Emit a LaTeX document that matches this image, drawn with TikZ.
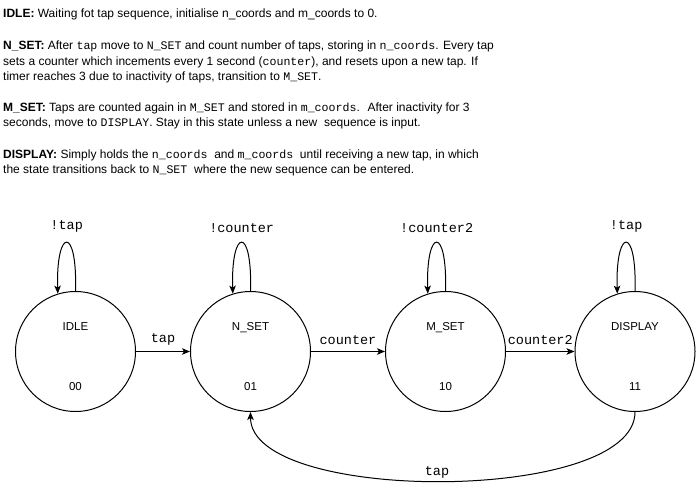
\documentclass[tikz,border=0pt]{standalone}
\usepackage{fontspec}
\setmainfont{Liberation Sans}
\setmonofont{Liberation Mono}
\usetikzlibrary{arrows.meta}
\newcommand{\mcode}[1]{{\fontsize{11.6}{13}\selectfont\ttfamily #1}}
\begin{document}
\begin{tikzpicture}[x=1pt,y=-1pt,
  para/.style={anchor=base west, inner sep=0pt, font=\fontsize{12}{14}\selectfont},
  state/.style={circle, draw, line width=1pt, minimum size=120pt, inner sep=0pt},
  stxt/.style={anchor=base, inner sep=0pt, font=\fontsize{11.5}{13}\selectfont},
  elabel/.style={font=\fontsize{13.5}{15}\selectfont\ttfamily, inner sep=0pt},
  edge/.style={line width=1pt, -{Stealth[length=8pt,width=6.5pt,inset=2pt]}},
]
\useasboundingbox (0,0) rectangle (696,495);

% description text
\node[para] (p1) at (3,17.5) {\textbf{IDLE:} Waiting fot tap sequence, initialise n\_coords and m\_coords to 0.};
\node[para] (p2) at (3,50) {\textbf{N\_SET:} After \mcode{tap} move to \mcode{N\_SET} and count number of taps, storing in \mcode{n\_coords}. Every tap};
\node[para] (p3) at (3,66) {sets a counter which incements every 1 second (\mcode{counter}), and resets upon a new tap. If};
\node[para] (p4) at (3,81) {timer reaches 3 due to inactivity of taps, transition to \mcode{M\_SET}.};
\node[para] (p5) at (3,111) {\textbf{M\_SET:} Taps are counted again in \mcode{M\_SET} and stored in \mcode{m\_coords}.~ After inactivity for 3};
\node[para] (p6) at (3,126) {seconds, move to \mcode{DISPLAY}. Stay in this state unless a new~ sequence is input.};
\node[para] (p7) at (3,158) {\textbf{DISPLAY:} Simply holds the \mcode{n\_coords}~ and \mcode{m\_coords}~ until receiving a new tap, in which};
\node[para] (p8) at (3,173) {the state transitions back to \mcode{N\_SET}~ where the new sequence can be entered.};

% states
\node[state] (idle) at (75.5,351.5) {};
\node[state] (nset) at (250.5,351.5) {};
\node[state] (mset) at (445.5,351.5) {};
\node[state] (disp) at (635,351.5) {};

\node[stxt] (idlename) at (75.5,330) {IDLE};
\node[stxt] (idlecode) at (75.5,390) {00};
\node[stxt] (nsetname) at (250.5,330) {N\_SET};
\node[stxt] (nsetcode) at (250.5,390) {01};
\node[stxt] (msetname) at (445.5,330) {M\_SET};
\node[stxt] (msetcode) at (445.5,390) {10};
\node[stxt] (dispname) at (635,330) {DISPLAY};
\node[stxt] (dispcode) at (635,390) {11};

% transitions
\draw[edge] (idle.east) -- (nset.west) node[elabel, midway, above=6pt] {tap};
\draw[edge] (nset.east) -- (mset.west) node[elabel, midway, above=6pt] {counter};
\draw[edge] (mset.east) -- (disp.west) node[elabel, midway, above=6pt] {counter2};

% self loops
\draw[edge] (idle.north) .. controls +(2,-66) and +(-2,-66) .. (idle.107) node[elabel, pos=0.5, above=10pt] {!tap};
\draw[edge] (nset.north) .. controls +(2,-66) and +(-2,-66) .. (nset.107) node[elabel, pos=0.5, above=10pt] {!counter};
\draw[edge] (mset.north) .. controls +(2,-66) and +(-2,-66) .. (mset.107) node[elabel, pos=0.5, above=10pt] {!counter2};
\draw[edge] (disp.north) .. controls +(2,-66) and +(-2,-66) .. (disp.107) node[elabel, pos=0.5, above=10pt] {!tap};

% return
\draw[edge] (disp.south) .. controls +(0,92) and +(0,92) .. (nset.south) node[elabel, pos=0.51, above=2pt] {tap};
\end{tikzpicture}
\end{document}
